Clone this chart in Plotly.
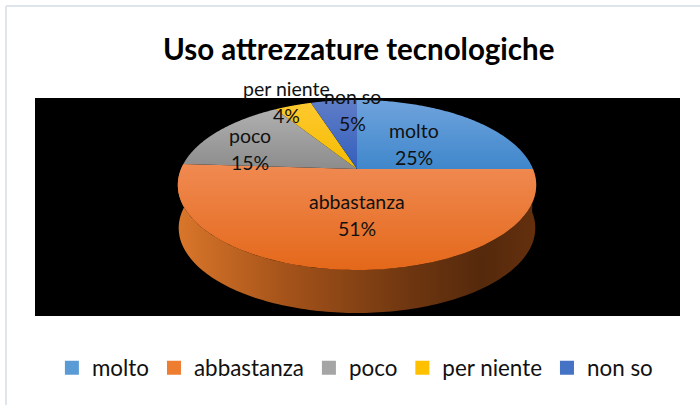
import numpy as np
import plotly.graph_objects as go

categories = ["molto", "abbastanza", "poco", "per niente", "non so"]
values = [25, 51, 15, 4, 5]
top_colors = [("#6fa3dd", "#3f87cb"), ("#f08a52", "#e4681a"), ("#b0b0b0", "#8c8c8c"),
              ("#ffc92f", "#f4bc00"), ("#5f7dc8", "#335fbc")]
legend_colors = ["#5b9bd5", "#ed7d31", "#a5a5a5", "#ffc000", "#4472c4"]
name_pos = [(414, 130), (357, 201), (250, 135), (286, 88), (352, 96)]
pct_pos = [(414, 157), (357, 228), (250, 162), (286, 115), (352, 123)]

CX, CY, A, B, K = 357, 169, 176, 82, 0.188


def project(theta, dy=0.0, scale=1.0):
    u, v = np.sin(theta), np.cos(theta)
    d = 1 + K * v
    return CX + scale * A * u / d, CY - B * v / d + dy


fig = go.Figure()
total = sum(values)
edges = np.concatenate([[0], np.cumsum(values)]) / total * 2 * np.pi

# side wall of the large slice, following the slice's front rim
t = np.linspace(np.pi / 2, edges[2], 160)
x1, y1 = project(t)
x2, y2 = project(t, dy=43, scale=0.995)
fig.add_trace(go.Scatter(
    x=np.concatenate([x1, x2[::-1]]), y=np.concatenate([y1, y2[::-1]]),
    mode="none", fill="toself", showlegend=False, hoverinfo="skip",
    fillgradient=dict(type="horizontal", colorscale=[
        [0, "#d9762a"], [0.3, "#a5531a"], [0.65, "#6e3610"], [0.85, "#55290c"], [1, "#64300e"]]),
))

for i, cat in enumerate(categories):
    t = np.linspace(edges[i], edges[i + 1], 120)
    x, y = project(t)
    fig.add_trace(go.Scatter(
        x=np.concatenate([[CX], x, [CX]]), y=np.concatenate([[CY], y, [CY]]),
        mode="none", fill="toself", showlegend=False, name=cat, hoverinfo="skip",
        fillgradient=dict(type="vertical", colorscale=[[0, top_colors[i][1]], [1, top_colors[i][0]]]),
    ))

for cat, col in zip(categories, legend_colors):
    fig.add_trace(go.Scatter(x=[None], y=[None], mode="markers", name=cat,
                             marker=dict(symbol="square", size=14, color=col)))

annotations = [dict(text="<b>Uso attrezzature tecnologiche</b>", x=358, y=48, showarrow=False,
                    font=dict(family="Lato", size=29.5, color="#000000"))]
for cat, v, p, q in zip(categories, values, name_pos, pct_pos):
    annotations.append(dict(text=cat, x=p[0], y=p[1], showarrow=False,
                            font=dict(family="Lato", size=19.5, color="#111111")))
    annotations.append(dict(text=f"{v}%", x=q[0], y=q[1], showarrow=False,
                            font=dict(family="Lato", size=19.5, color="#111111")))

fig.update_layout(
    width=700, height=405, margin=dict(l=0, r=0, t=0, b=0),
    paper_bgcolor="#ffffff", plot_bgcolor="#ffffff",
    xaxis=dict(range=[0, 700], visible=False, fixedrange=True),
    yaxis=dict(range=[405, 0], visible=False, fixedrange=True),
    showlegend=True,
    legend=dict(orientation="h", x=0.507, xanchor="center", y=0.091, yanchor="middle",
                font=dict(family="Lato", size=22.4, color="#111111"), bgcolor="rgba(0,0,0,0)"),
    shapes=[
        dict(type="line", x0=6, y0=6, x1=6, y1=405, line=dict(color="#dfe5ec", width=2), layer="below"),
        dict(type="line", x0=6, y0=6, x1=700, y1=6, line=dict(color="#dfe5ec", width=2), layer="below"),
        dict(type="rect", x0=35, y0=98, x1=680, y1=316, fillcolor="#000000", line=dict(width=0), layer="below"),
    ],
    annotations=annotations,
)
fig.write_html("out.html", post_script="document.body.style.margin='0';document.body.style.overflow='hidden';",
               config={"displayModeBar": False})
